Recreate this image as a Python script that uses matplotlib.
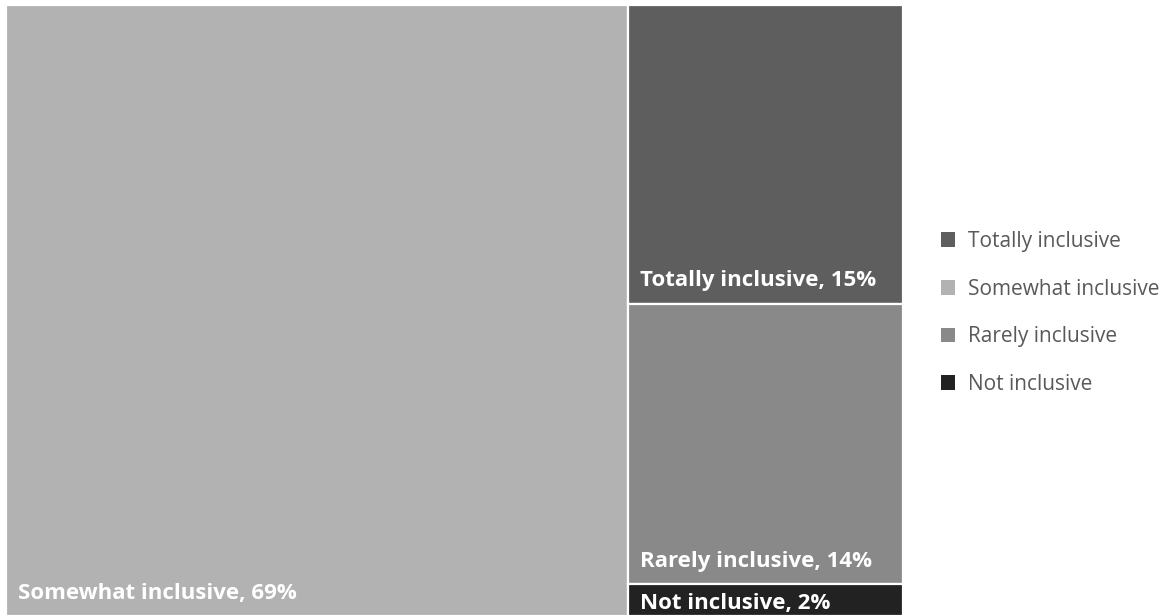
import matplotlib
matplotlib.use("Agg")
import matplotlib.pyplot as plt
from matplotlib.patches import Rectangle, Patch

categories = ["Somewhat inclusive", "Totally inclusive", "Rarely inclusive", "Not inclusive"]
values = [69.4, 15.0, 14.1, 1.6]
colors = ["#b2b2b2", "#5e5e5e", "#898989", "#222222"]
legend_order = ["Totally inclusive", "Somewhat inclusive", "Rarely inclusive", "Not inclusive"]

W, H = 1165, 615
fig = plt.figure(figsize=(W / 100, H / 100), dpi=100)
ax = fig.add_axes([6 / W, -1 / H, 897 / W, 611 / H])
ax.set_xlim(0, 1)
ax.set_ylim(0, 1)
ax.axis("off")

total = sum(values)
# first item takes a full-height column, the rest stack in the right column
w0 = values[0] / total
rects = [(0, 0, w0, 1)]
rest = sum(values[1:])
top = 1.0
for v in values[1:]:
    h = v / rest
    rects.append((w0, top - h, 1 - w0, h))
    top -= h

label_font = dict(family=["Open Sans", "DejaVu Sans"], fontweight="bold", color="white", fontsize=16)
for (x, y, w, h), name, v, c in zip(rects, categories, values, colors):
    ax.add_patch(Rectangle((x, y), w, h, facecolor=c, edgecolor="white", linewidth=1.6))
    txt = f"{name}, {round(v)}%"
    if h > 0.1:
        ax.annotate(txt, xy=(x, y), xytext=(8.6, 16.5), textcoords="offset points",
                    ha="left", va="center", **label_font)
    else:
        ax.annotate(txt, xy=(x, y + h), xytext=(8.6, -14.0), textcoords="offset points",
                    ha="left", va="center", annotation_clip=False, **label_font)

cmap = dict(zip(categories, colors))
handles = [Patch(facecolor=cmap[n], edgecolor="none") for n in legend_order]
leg = fig.legend(handles, legend_order, loc="center left", bbox_to_anchor=(922 / W, 1 - 313 / H),
                 frameon=False, labelspacing=1.28, handlelength=0.7, handleheight=0.7,
                 handletextpad=0.6, prop=dict(family=["Open Sans", "DejaVu Sans"], size=15))
for t in leg.get_texts():
    t.set_color("#595959")

fig.savefig("out.png", dpi=100, facecolor="white")
